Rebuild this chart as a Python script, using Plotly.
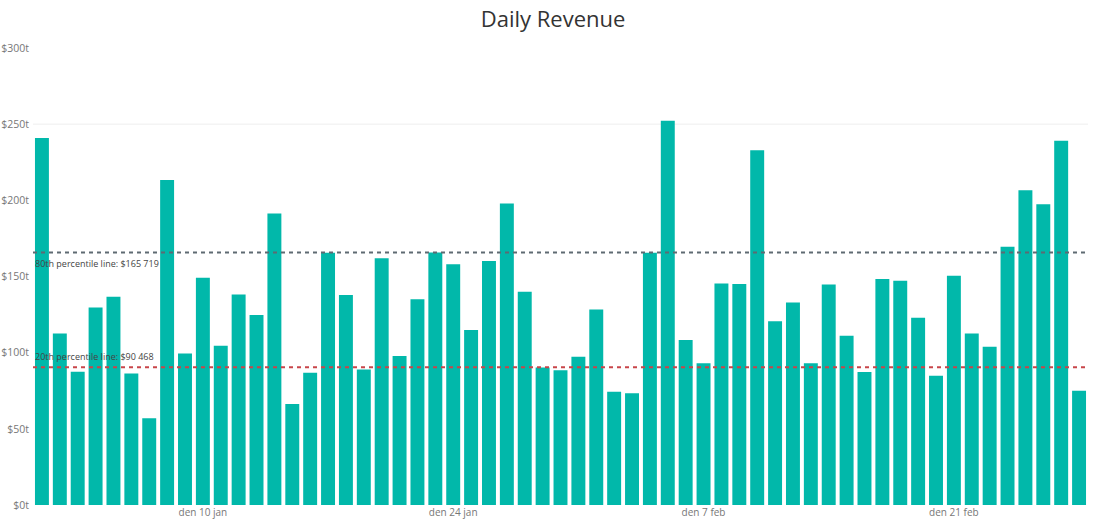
import pandas as pd
import plotly.graph_objects as go

# ---- data ----
dates = pd.date_range("2018-01-01", "2018-02-28", freq="D")
revenue_t = [
    241, 112.6, 87.5, 129.7, 136.7, 86.4, 56.9, 213.3, 99.5, 149.2,
    104.5, 138.2, 124.7, 191.4, 66.3, 86.8, 165.6, 137.8, 89.0, 161.9,
    97.8, 135.0, 165.8, 158.1, 114.8, 160.1, 198.0, 140.0, 90.3, 88.4,
    97.3, 128.4, 74.4, 73.3, 165.6, 252.2, 108.3, 93.0, 145.4, 145.0,
    232.9, 120.7, 133.0, 93.0, 144.8, 111.1, 87.3, 148.3, 147.2, 122.9,
    84.9, 150.5, 112.6, 103.9, 169.5, 206.7, 197.5, 239.1, 75.0,
]
revenue = [v * 1000 for v in revenue_t]

p80_value = 165719
p20_value = 90468
p80_label = "80th percentile line: $165 719"
p20_label = "20th percentile line: $90 468"

y_tick_vals = [0, 50000, 100000, 150000, 200000, 250000, 300000]
y_tick_text = ["$0t", "$50t", "$100t", "$150t", "$200t", "$250t", "$300t"]
x_tick_vals = ["2018-01-10", "2018-01-24", "2018-02-07", "2018-02-21"]
x_tick_text = ["den 10 jan", "den 24 jan", "den 7 feb", "den 21 feb"]

title = "Daily Revenue"

# ---- figure ----
bar_color = "#01B8AA"
fig = go.Figure()
fig.add_trace(go.Bar(x=dates, y=revenue, marker_color=bar_color,
                     marker_line_width=0, hoverinfo="x+y"))

x0 = dates[0] - pd.Timedelta(hours=12)
x1 = dates[-1] + pd.Timedelta(hours=12)

fig.add_shape(type="line", xref="paper", yref="y", x0=0, x1=1,
              y0=250000, y1=250000, line=dict(color="#EEEEEE", width=1), layer="below")

fig.add_shape(type="line", xref="paper", yref="y", x0=0, x1=1,
              y0=p80_value, y1=p80_value,
              line=dict(color="#5E6A72", width=2, dash="4px,4px"))
fig.add_shape(type="line", xref="paper", yref="y", x0=0, x1=1,
              y0=p20_value, y1=p20_value,
              line=dict(color="#C8454A", width=2, dash="4px,4px"))

fig.add_annotation(x=0, xref="paper", xanchor="left", y=p80_value, yref="y",
                   yanchor="top", yshift=-2, text=p80_label, showarrow=False,
                   font=dict(size=9, color="#444444", family="Open Sans"))
fig.add_annotation(x=0, xref="paper", xanchor="left", y=p20_value, yref="y",
                   yanchor="bottom", yshift=2, text=p20_label, showarrow=False,
                   font=dict(size=9, color="#444444", family="Open Sans"))

fig.update_layout(
    width=1093, height=521,
    paper_bgcolor="white", plot_bgcolor="white",
    margin=dict(l=33, r=5, t=48, b=16),
    bargap=0.22,
    showlegend=False,
    title=dict(text=title, x=0.506, xanchor="center", y=0.963, yanchor="middle",
               font=dict(size=22, color="#333333", family="Open Sans")),
    xaxis=dict(range=[x0, x1], tickvals=x_tick_vals, ticktext=x_tick_text,
               showgrid=False, zeroline=False, showline=False, ticks="",
               automargin=False, ticklabelstandoff=0,
               tickfont=dict(size=10, color="#777777", family="Open Sans")),
    yaxis=dict(range=[0, 300000], tickvals=y_tick_vals, ticktext=y_tick_text,
               showgrid=False, zeroline=False, showline=False, ticks="",
               automargin=False, ticklabelstandoff=3,
               tickfont=dict(size=10.5, color="#777777", family="Open Sans")),
)

fig.write_html("out.html", config={"displayModeBar": False},
               post_script="document.body.style.margin='0';document.body.style.overflow='hidden';")
